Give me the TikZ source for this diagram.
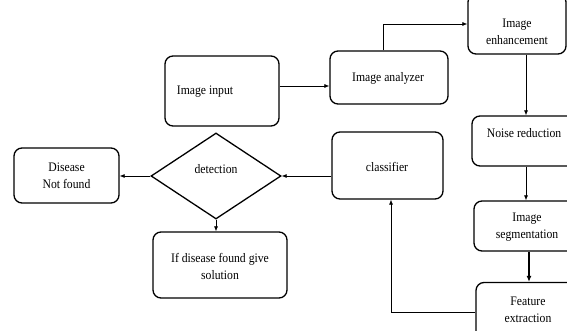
\documentclass[tikz,border=0pt]{standalone}
\usepackage{fontspec}
\setmainfont[FakeStretch=0.9]{Liberation Serif}
\usetikzlibrary{shapes.geometric,arrows.meta}
\begin{document}
\begin{tikzpicture}[x=1pt,y=-1pt,
  box/.style={draw, line width=1.3pt, rounded corners=8pt, inner sep=0pt},
  lbl/.style={font=\fontsize{13}{17}\selectfont, align=center, inner sep=0pt},
  conn/.style={line width=0.7pt, -{Latex[length=5pt,width=4pt]}},
  connb/.style={line width=1.1pt, -{Latex[length=6pt,width=5pt]}}]
\useasboundingbox (0,0) rectangle (567,331);
\clip (0,0) rectangle (567,331);
% boxes
\node[box, minimum width=114pt, minimum height=70pt] (inp) at (222,91) {};
\node[lbl] (inpt) at (205,92) {Image input};
\node[box, minimum width=118pt, minimum height=53pt] (an) at (389,77.5) {};
\node[lbl] (ant) at (388,78) {Image analyzer};
\node[box, minimum width=98pt, minimum height=60pt] (enh) at (517,24) {};
\node[lbl] (enht) at (517,32) {Image\\enhancement};
\node[box, minimum width=108pt, minimum height=50pt] (noi) at (526,141) {};
\node[lbl] (noit) at (524,133) {Noise reduction};
\node[box, minimum width=106pt, minimum height=50pt] (seg) at (527,226) {};
\node[lbl] (segt) at (527,227) {Image\\segmentation};
\node[box, minimum width=104pt, minimum height=57pt] (fe) at (528,311) {};
\node[lbl] (fet) at (528,309.5) {Feature\\extraction};
\node[box, minimum width=111pt, minimum height=67pt] (cls) at (387.5,165.5) {};
\node[lbl] (clst) at (387,167) {classifier};
\node[draw, line width=1.3pt, diamond, minimum width=130pt, minimum height=86pt, inner sep=0pt] (det) at (216,176) {};
\node[lbl] (dett) at (216,169) {detection};
\node[box, minimum width=105pt, minimum height=55pt] (dnf) at (66.5,175.5) {};
\node[lbl] (dnft) at (66.5,176) {Disease\\Not found};
\node[box, minimum width=134pt, minimum height=66pt] (sol) at (220,265) {};
\node[lbl] (solt) at (220,266) {If disease found give\\solution};
% connectors
\draw[conn] (inp.east |- 0,86) -- (an.west |- 0,86);
\draw[conn] ([xshift=-6pt]an.north) |- (enh.west);
\draw[conn] (enh.south -| 526,0) -- (noi.north -| 526,0);
\draw[conn] (noi.south -| 526,0) -- (seg.north -| 526,0);
\draw[connb] (seg.south -| 529,0) -- (fe.north -| 529,0);
\draw[conn] (fe.west |- 0,312) -| (cls.south -| 391,0);
\draw[conn] (cls.west |- det.east) -- (det.east);
\draw[conn] (det.west) -- (dnf.east |- det.west);
\draw[conn] (det.south) -- (sol.north -| det.south);
\end{tikzpicture}
\end{document}
